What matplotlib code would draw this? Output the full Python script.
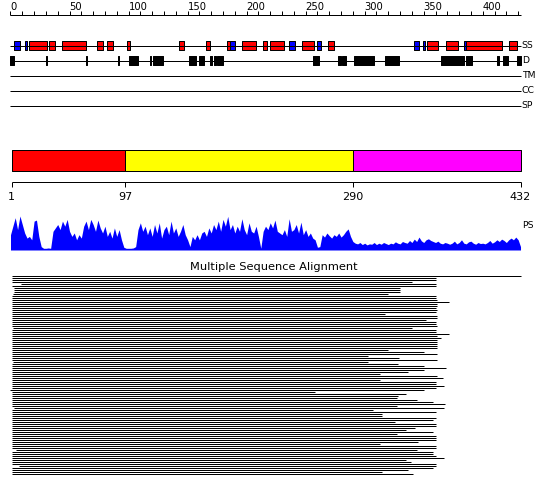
import numpy as np
import matplotlib
matplotlib.use("Agg")
import matplotlib.pyplot as plt

# ---------------- data ----------------
SEQ_LEN = 432
ruler_minor = list(range(0, 431, 10))
ruler_labels = [0, 50, 100, 150, 200, 250, 300, 350, 400]

track_names = ["SS", "D", "TM", "CC", "SP"]

helix = [(16, 31), (33, 38), (44, 64), (73, 78), (82, 87), (99, 101),
         (143, 147), (166, 169), (183, 186), (196, 208), (214, 217),
         (220, 232), (247, 257), (269, 274), (353, 362), (369, 379),
         (386, 416), (422, 429)]
strand = [(3, 8), (12, 14), (186, 190), (236, 241), (260, 263),
          (342, 346), (349, 351), (384, 386)]
disorder = [(0, 3), (30, 31), (64, 65), (91, 92), (100, 108), (118, 119),
            (121, 129), (151, 157), (160, 164), (169, 171), (172, 174),
            (175, 180), (256, 261), (277, 280), (281, 284), (291, 308),
            (317, 329), (365, 384), (386, 391), (412, 414), (417, 421),
            (429, 432)]

domain_bounds = [1, 97, 290, 432]
domain_colors = ["#ff0000", "#ffff00", "#ff00ff"]

ps_pos = list(range(0, 433, 2))
ps_values = [
    0.45, 0.7, 0.95, 0.6, 1.0, 0.75,
    0.5, 0.35, 0.4, 0.3, 0.85,
    0.88, 0.4, 0.1,
    0.05, 0.05, 0.06, 0.05,
    0.55, 0.65, 0.75, 0.6, 0.85, 0.7, 0.9, 0.55,
    0.4, 0.5, 0.3, 0.45, 0.35,
    0.7, 0.85, 0.6, 0.9, 0.75, 0.55, 0.88, 0.65, 0.5, 0.7,
    0.4, 0.55, 0.35, 0.65, 0.4, 0.6, 0.3,
    0.08, 0.05, 0.05, 0.05, 0.06, 0.1,
    0.6, 0.8, 0.55, 0.7, 0.45,
    0.65, 0.4, 0.75, 0.5, 0.8, 0.35, 0.6, 0.7, 0.45, 0.85, 0.5, 0.65, 0.4,
    0.55, 0.75, 0.45, 0.3,
    0.1, 0.4, 0.3,
    0.45, 0.3, 0.5, 0.55, 0.4, 0.65, 0.5,
    0.75, 0.6, 0.85, 0.55, 0.9, 0.7, 0.99, 0.6, 0.75,
    0.5, 0.7, 0.55, 0.92, 0.6, 0.45, 0.8, 0.55, 0.5, 0.7, 0.4,
    0.05,
    0.55, 0.7, 0.6, 0.8, 0.65, 0.88, 0.55, 0.5,
    0.45, 0.6, 0.4, 0.92, 0.55, 0.6, 0.75, 0.5, 0.82, 0.45, 0.6,
    0.4, 0.5, 0.35, 0.3,
    0.08, 0.1,
    0.45, 0.38, 0.5, 0.42, 0.35, 0.45, 0.4, 0.5, 0.38, 0.45, 0.55, 0.62, 0.4,
    0.25, 0.2, 0.18, 0.22, 0.16, 0.2, 0.15, 0.18, 0.17, 0.22, 0.16,
    0.2, 0.17, 0.22, 0.19, 0.16, 0.2, 0.18, 0.24, 0.2, 0.18, 0.25, 0.22, 0.2, 0.28, 0.22,
    0.32, 0.25, 0.38, 0.27, 0.22, 0.3, 0.33, 0.28, 0.25, 0.22, 0.26, 0.2, 0.18, 0.22, 0.2,
    0.17, 0.2, 0.26, 0.18, 0.22, 0.3, 0.2, 0.18, 0.24, 0.26, 0.2, 0.17, 0.22, 0.19, 0.2,
    0.18, 0.22, 0.28, 0.2, 0.24, 0.3, 0.25, 0.32, 0.28, 0.22, 0.3, 0.35, 0.3, 0.38, 0.3, 0.1,
]

msa_title = "Multiple Sequence Alignment"
msa_starts = [
    1, 1, 1, 9, 1, 3, 3, 3, 2, 1,
    1, 1, 1, 1, 1, 1, 1, 1, 1, 1,
    1, 1, 1, 1, 1, 2, 1, 1, 1, 1,
    1, 1, 1, 1, 1, 1, 1, 1, 1, 1,
    1, 1, 2, 1, 1, 1, 1, 1, 1, 1,
    1, 1, 1, 1, 1, 1, 0, 1, 1, 1,
    1, 1, 1, 1, 1, 3, 1, 1, 1, 1,
    1, 1, 1, 1, 1, 1, 1, 1, 1, 1,
    1, 1, 1, 1, 1, 1, 5, 1, 1, 1,
    1, 1, 1, 1, 7, 1, 1, 1, 1,
]
msa_ends = [
    360, 360, 340, 360, 360, 330, 330, 330, 320, 360,
    360, 361, 371, 361, 361, 360, 361, 360, 317,
    361, 361, 352, 360, 360, 361, 340, 360, 360, 371,
    361, 365, 361, 361, 361, 361, 361, 320, 350, 361,
    303, 329, 361, 303, 328, 350, 369, 350, 337, 313,
    361,
    366, 313, 360, 360, 367, 360, 350, 258, 335, 328,
    327, 344, 358, 368, 327, 367, 307, 360, 315, 315,
    360, 358, 326, 360, 360, 343, 335, 358, 327, 360,
    360, 360, 345, 313, 360, 360, 344, 358, 358, 360,
    367, 335, 339, 360, 360, 358, 337, 315, 341,
]

# ---------------- layout (pixel rows) ----------------
W, H = 550, 495
PX = 1.1806               # pixels per residue
X0 = 10.5                 # pixel of residue 0
LW = 0.72                 # 1 pixel in points at 100 dpi

fig = plt.figure(figsize=(W / 100, H / 100), dpi=100)
ax = fig.add_axes([0, 0, 1, 1])
ax.set_xlim(-X0 / PX, (W - X0) / PX)
ax.set_ylim(H, 0)
ax.axis("off")

small_font = ["Liberation Sans Narrow", "DejaVu Sans"]

# top ruler
ruler_y = 14.5
ax.hlines(ruler_y, 0, SEQ_LEN, color="k", lw=LW)
ax.vlines(ruler_minor, ruler_y - 3.5, ruler_y, color="k", lw=LW)
for v in ruler_labels:
    ax.text(v, 9.8, str(v), ha="left", va="baseline", fontsize=7.2,
            family=small_font, color="k")

# feature tracks
track_y = [45.5, 60.5, 75.5, 90.5, 105.5]
for name, y in zip(track_names, track_y):
    ax.hlines(y, 0, SEQ_LEN, color="k", lw=LW)
    ax.text(SEQ_LEN + 1, y, name, ha="left", va="center", fontsize=6.7,
            family="DejaVu Sans", color="k")

ax.broken_barh([(s, e - s) for s, e in helix], (41, 9),
               facecolors="#ff0000", edgecolors="k", linewidth=LW)
ax.broken_barh([(s, e - s) for s, e in strand], (41, 9),
               facecolors="#0000ff", edgecolors="k", linewidth=LW)
ax.broken_barh([(s, e - s) for s, e in disorder], (56, 9),
               facecolors="k", edgecolors="k", linewidth=LW)

# domain bar
ax.broken_barh([(domain_bounds[i], domain_bounds[i + 1] - domain_bounds[i])
                for i in range(len(domain_colors))], (150, 21),
               facecolors=domain_colors, edgecolors="k", linewidth=LW)

axis_y = 181.5
ax.hlines(axis_y, domain_bounds[0], domain_bounds[-1], color="k", lw=LW)
ax.vlines(domain_bounds, axis_y, axis_y + 5, color="k", lw=LW)
for b in domain_bounds:
    ax.text(b, 197, str(b), ha="center", va="center", fontsize=8,
            family="DejaVu Sans", color="k")

# PS profile
ps_base = 250
ps_scale = 34
ax.fill_between(ps_pos, ps_base, ps_base - ps_scale * np.array(ps_values),
                color="#0000ff", lw=0)
ax.text(SEQ_LEN + 1, 226, "PS", ha="left", va="center", fontsize=6.7,
        family="DejaVu Sans", color="k")

# multiple sequence alignment
ax.text(223.2, 270, msa_title, ha="center", va="baseline", fontsize=8.2,
        family="DejaVu Sans", color="k")
ax.hlines(275.5, 1, SEQ_LEN, color="k", lw=LW)
rows = [277.5 + 2 * i for i in range(len(msa_ends))]
ax.hlines(rows, msa_starts[:len(msa_ends)], msa_ends, color="k", lw=LW)

fig.savefig("out.png", dpi=100, facecolor="white")
